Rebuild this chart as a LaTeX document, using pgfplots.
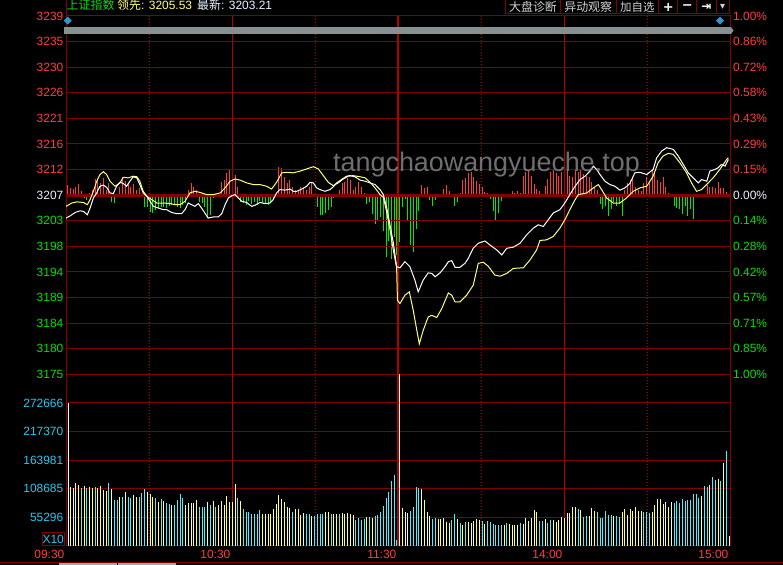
\documentclass[border=0pt]{standalone}
\usepackage{pgfplots}
\pgfplotsset{compat=1.18}
\usepackage{pgfplotstable}
\usepackage{fontspec}
\setmainfont{Liberation Sans}
\newfontfamily\cjk{Noto Sans CJK SC}
\newfontfamily\dejavu{DejaVu Sans}

\definecolor{gridred}{RGB}{130,0,0}
\definecolor{vred}{RGB}{175,0,0}
\definecolor{zeroline}{RGB}{140,0,0}
\definecolor{lred}{RGB}{255,60,60}
\definecolor{lgreen}{RGB}{0,225,0}
\definecolor{lwhite}{RGB}{235,242,255}
\definecolor{lcyan}{RGB}{40,200,235}
\definecolor{rbar}{RGB}{255,60,60}
\definecolor{gbar}{RGB}{0,235,0}
\definecolor{vyel}{RGB}{255,255,140}
\definecolor{vcyan}{RGB}{90,235,250}
\definecolor{vpale}{RGB}{215,255,255}
\definecolor{lyel}{RGB}{255,255,120}
\definecolor{btn}{RGB}{210,210,210}
\definecolor{sgray}{RGB}{135,145,145}
\definecolor{dblue}{RGB}{50,150,210}

\newcommand\f{\fontsize{12}{14}\selectfont}
\newcommand\R[1]{\textcolor{lred}{#1}}
\newcommand\G[1]{\textcolor{lgreen}{#1}}

\pgfplotsset{
  base/.style={
    scale only axis, anchor=south west, width=664bp,
    axis line style={draw=gridred, line width=1bp},
    major tick length=0pt, minor tick length=0pt,
    tick label style={font=\f}, scaled ticks=false,
    major grid style={line width=1bp},
    minor grid style={line width=1bp, dash pattern=on 1bp off 2bp},
    x grid style={draw=vred}, y grid style={draw=gridred},
  }
}

% red/green strength bars around the previous close
\pgfplotstableread[row sep=\\]{
i h\\
0 10\\ 1 7\\ 2 6\\ 3 8\\ 4 11\\ 5 4\\ 6 -3\\ 7 -5\\ 8 2\\ 9 5\\
10 16\\ 11 17\\ 12 12\\ 13 17\\ 14 5\\ 15 12\\ 16 -7\\ 17 -8\\ 18 1\\ 19 8\\
20 18\\ 21 14\\ 22 12\\ 23 8\\ 24 11\\ 25 5\\ 26 7\\ 27 -2\\ 28 -12\\ 29 -12\\
30 -17\\ 31 -18\\ 32 -15\\ 33 -13\\ 34 -12\\ 35 -12\\ 36 -13\\ 37 -11\\ 38 -10\\ 39 -10\\
40 -12\\ 41 -13\\ 42 -10\\ 43 -8\\ 44 5\\ 45 12\\ 46 8\\ 47 5\\ 48 -7\\ 49 -8\\
50 -12\\ 51 -23\\ 52 -20\\ 53 -3\\ 54 1\\ 55 -1\\ 56 13\\ 57 15\\ 58 22\\ 59 25\\
60 29\\ 61 20\\ 62 8\\ 63 -7\\ 64 -8\\ 65 -10\\ 66 -6\\ 67 -9\\ 68 -7\\ 69 -10\\
70 -6\\ 71 -8\\ 72 -9\\ 73 -10\\ 74 -7\\ 75 -4\\ 76 1\\ 77 28\\ 78 27\\ 79 18\\
80 12\\ 81 15\\ 82 8\\ 83 5\\ 84 5\\ 85 8\\ 86 7\\ 87 5\\ 88 8\\ 89 12\\
90 -2\\ 91 -12\\ 92 -20\\ 93 -20\\ 94 -18\\ 95 -15\\ 96 -12\\ 97 -3\\ 98 1\\ 99 5\\
100 12\\ 101 13\\ 102 17\\ 103 15\\ 104 5\\ 105 8\\ 106 13\\ 107 8\\ 108 2\\ 109 -9\\
110 -7\\ 111 -19\\ 112 -29\\ 113 -26\\ 114 -22\\ 115 -36\\ 116 -62\\ 117 -46\\ 118 -64\\ 119 -42\\
120 -60\\ 121 -47\\ 122 -12\\ 123 -4\\ 124 -26\\ 125 -50\\ 126 -57\\ 127 -34\\ 128 -16\\ 129 10\\
130 7\\ 131 8\\ 132 -5\\ 133 -11\\ 134 -5\\ 135 1\\ 136 1\\ 137 6\\ 138 10\\ 139 4\\
140 -2\\ 141 -11\\ 142 -7\\ 143 2\\ 144 15\\ 145 17\\ 146 22\\ 147 23\\ 148 18\\ 149 14\\
150 11\\ 151 8\\ 152 3\\ 153 2\\ 154 -4\\ 155 -16\\ 156 -26\\ 157 -18\\ 158 -6\\ 159 1\\
160 -1\\ 161 1\\ 162 4\\ 163 2\\ 164 4\\ 165 2\\ 166 19\\ 167 23\\ 168 24\\ 169 19\\
170 11\\ 171 6\\ 172 4\\ 173 -1\\ 174 9\\ 175 16\\ 176 23\\ 177 25\\ 178 22\\ 179 19\\
180 23\\ 181 25\\ 182 25\\ 183 19\\ 184 18\\ 185 25\\ 186 23\\ 187 25\\ 188 21\\ 189 19\\
190 18\\ 191 13\\ 192 8\\ 193 5\\ 194 -9\\ 195 -14\\ 196 -11\\ 197 -21\\ 198 -14\\ 199 -7\\
200 -11\\ 201 -9\\ 202 -21\\ 203 5\\ 204 12\\ 205 15\\ 206 17\\ 207 8\\ 208 5\\ 209 4\\
210 12\\ 211 18\\ 212 12\\ 213 25\\ 214 22\\ 215 15\\ 216 13\\ 217 18\\ 218 8\\ 219 2\\
220 -2\\ 221 -11\\ 222 -13\\ 223 -14\\ 224 -19\\ 225 -11\\ 226 -21\\ 227 -14\\ 228 -24\\ 229 1\\
230 0\\ 231 -1\\ 232 1\\ 233 10\\ 234 8\\ 235 8\\ 236 7\\ 237 13\\ 238 7\\ 239 7\\
240 3\\
}\rgdata

% volume per minute, t: 0 opening (white), 1 up (yellow), 2 down (cyan), 3 lunch bar
\pgfplotstableread[row sep=\\]{
k v t\\
1 112800 1\\ 2 109600 1\\ 3 120500 1\\ 4 116700 1\\ 5 109600 2\\ 6 114700 1\\ 7 109600 2\\
8 112200 1\\ 9 109600 1\\ 10 112200 2\\ 11 109600 1\\ 12 113500 1\\ 13 107000 1\\ 14 104500 1\\ 15 120500 2\\
16 109000 1\\ 17 86500 2\\ 18 86500 2\\ 19 92900 1\\ 20 93600 2\\ 21 101900 1\\ 22 93600 2\\ 23 90400 2\\
24 96800 1\\ 25 93600 1\\ 26 93600 2\\ 27 101300 2\\ 28 107700 2\\ 29 102600 1\\ 30 98700 1\\ 31 93600 1\\
32 91700 2\\ 33 82700 1\\ 34 89700 2\\ 35 84600 1\\ 36 81400 2\\ 37 80100 2\\ 38 78200 1\\ 39 78200 2\\
40 87800 2\\ 41 98700 2\\ 42 90400 2\\ 43 78200 1\\ 44 81400 1\\ 45 81400 1\\ 46 81400 1\\ 47 87800 1\\
48 74400 2\\ 49 74400 2\\ 50 74400 2\\ 51 84000 1\\ 52 78200 2\\ 53 85900 1\\ 54 73100 2\\ 55 78200 1\\
56 84600 1\\ 57 78200 1\\ 58 94900 1\\ 59 84000 1\\ 60 84000 1\\ 61 118600 1\\ 62 90400 2\\ 63 84600 1\\
64 70500 2\\ 65 64700 2\\ 66 64700 2\\ 67 59600 2\\ 68 60300 2\\ 69 60900 2\\ 70 68600 2\\ 71 60900 1\\
72 60900 1\\ 73 60900 1\\ 74 60900 1\\ 75 70500 1\\ 76 80100 1\\ 77 96800 1\\ 78 89700 1\\ 79 84000 1\\
80 73700 1\\ 81 71800 1\\ 82 64700 2\\ 83 70500 1\\ 84 69900 1\\ 85 58300 1\\ 86 62200 1\\ 87 60900 2\\
88 60900 2\\ 89 55800 1\\ 90 55800 2\\ 91 60900 2\\ 92 60900 2\\ 93 60900 2\\ 94 64700 1\\ 95 64700 1\\
96 60900 2\\ 97 60900 1\\ 98 60900 1\\ 99 60900 2\\ 100 62200 1\\ 101 60900 1\\ 102 62200 1\\ 103 60900 1\\
104 59000 1\\ 105 49400 2\\ 106 52600 2\\ 107 49400 2\\ 108 51300 2\\ 109 54500 1\\ 110 54500 2\\ 111 53200 1\\
112 55800 2\\ 113 59000 2\\ 114 63500 2\\ 115 75000 2\\ 116 91000 2\\ 117 101900 2\\ 118 124400 2\\ 119 134000 2\\
120 10900 2\\ 121 340000 3\\
122 72400 1\\ 123 64700 1\\ 124 62200 1\\ 125 66700 2\\ 126 74400 2\\ 127 112800 2\\ 128 110900 2\\ 129 109000 1\\
130 87800 1\\ 131 64700 1\\ 132 57000 1\\ 133 51300 2\\ 134 53200 2\\ 135 51300 1\\ 136 51300 1\\ 137 53200 1\\
138 45500 1\\ 139 43600 1\\ 140 49400 2\\ 141 60900 2\\ 142 51300 1\\ 143 43600 2\\ 144 39700 1\\ 145 45500 2\\
146 45500 1\\ 147 43600 1\\ 148 47400 1\\ 149 51300 1\\ 150 49400 1\\ 151 47400 2\\ 152 41700 1\\ 153 47400 2\\
154 45500 2\\ 155 41700 2\\ 156 39700 2\\ 157 39700 2\\ 158 39700 2\\ 159 39700 1\\ 160 43600 2\\ 161 41700 1\\
162 39700 1\\ 163 39700 1\\ 164 39700 1\\ 165 43600 2\\ 166 41700 1\\ 167 53200 1\\ 168 47400 1\\ 169 53200 1\\
170 68600 1\\ 171 64700 1\\ 172 47400 2\\ 173 47400 2\\ 174 51300 1\\ 175 43600 2\\ 176 49400 2\\ 177 49400 1\\
178 45500 1\\ 179 49400 1\\ 180 55100 1\\ 181 53800 1\\ 182 62800 1\\ 183 62800 1\\ 184 74400 1\\ 185 74400 1\\
186 70500 2\\ 187 68600 1\\ 188 55100 2\\ 189 57000 2\\ 190 57000 1\\ 191 72400 1\\ 192 66700 1\\ 193 64700 2\\
194 53800 2\\ 195 53800 2\\ 196 66700 2\\ 197 59000 2\\ 198 59000 2\\ 199 57000 1\\ 200 57000 2\\ 201 55100 2\\
202 64700 1\\ 203 70500 1\\ 204 57700 1\\ 205 70500 1\\ 206 66700 1\\ 207 74400 1\\ 208 66700 1\\ 209 66700 1\\
210 64700 2\\ 211 64700 2\\ 212 62800 2\\ 213 64700 1\\ 214 78200 1\\ 215 89700 1\\ 216 89700 1\\ 217 80100 1\\
218 84000 1\\ 219 74400 1\\ 220 84000 1\\ 221 82000 2\\ 222 85900 2\\ 223 82000 2\\ 224 89700 2\\ 225 85900 2\\
226 87800 2\\ 227 87800 2\\ 228 99400 2\\ 229 99400 2\\ 230 91700 2\\ 231 95500 1\\ 232 114700 2\\ 233 112800 2\\
234 116700 1\\ 235 132000 2\\ 236 126300 2\\ 237 128200 1\\ 238 124400 2\\ 239 157000 1\\ 240 180100 2\\ 241 19200 1\\
0.3 272000 0\\
}\voldata

\begin{document}
\begin{tikzpicture}[x=1bp,y=1bp]
\fill[black] (0,0) rectangle (783,565);

% strength bars + percent labels on the right
\begin{axis}[base, at={(66bp,190.6bp)}, height=358.4bp,
  xmin=-0.62, xmax=241.36, ymin=-179.2, ymax=179.2,
  axis line style={draw=none}, xtick=\empty,
  yticklabel pos=right,
  yticklabel style={anchor=west, inner sep=0pt, xshift=3bp},
  ytick={-179.2,-153.6,-128,-102.4,-76.8,-51.2,-25.6,0,25.6,51.2,76.8,102.4,128,153.6,179.2},
  yticklabels={\G{1.00\%},\G{0.85\%},\G{0.71\%},\G{0.57\%},\G{0.42\%},\G{0.28\%},\G{0.14\%},
    \textcolor{lwhite}{0.00\%},\R{0.15\%},\R{0.29\%},\R{0.43\%},\R{0.58\%},\R{0.72\%},\R{0.86\%},\R{1.00\%}},
]
\addplot[ycomb, draw=rbar, line width=1bp, restrict y to domain=0:500] table[x=i,y=h]{\rgdata};
\addplot[ycomb, draw=gbar, line width=1bp, restrict y to domain=-500:0] table[x=i,y=h]{\rgdata};
\end{axis}

% index and leading index
\begin{axis}[base, at={(66bp,190.6bp)}, height=358.4bp,
  xmin=0, xmax=240, ymin=3175.326, ymax=3239.474,
  xtick={60,180}, xticklabels={,}, minor xtick={30,90,150,210},
  extra x ticks={120}, extra x tick labels={},
  extra x tick style={major grid style={line width=2bp}},
  xmajorgrids, xminorgrids, ymajorgrids,
  ytick={3175.326,3179.908,3184.490,3189.072,3193.654,3198.236,3202.818,
    3211.982,3216.564,3221.146,3225.728,3230.310,3234.892,3239.474},
  yticklabels={\G{3175},\G{3180},\G{3184},\G{3189},\G{3194},\G{3198},\G{3203},
    \R{3212},\R{3216},\R{3221},\R{3226},\R{3230},\R{3235},\R{3239}},
  extra y ticks={3207.4}, extra y tick labels={\textcolor{lwhite}{3207}},
  extra y tick style={major grid style={draw=zeroline, line width=3bp}},
  yticklabel style={anchor=east, inner sep=0pt, xshift=-2.5bp},
]
\addplot[draw=lyel, line width=1bp] coordinates {
(0,3205.4)(2.1,3206.0)(3.9,3206.2)(6.3,3206.1)(7.7,3205.7)(8.7,3206.6)(9.9,3208.1)(11.1,3209.9)
(12.3,3211.1)(13.5,3211.6)(14.7,3211.1)(15.9,3209.9)(17.7,3209.0)(19.5,3209.6)(20.7,3210.6)(22.5,3210.5)
(24.3,3210.8)(25.6,3210.7)(26.7,3209.9)(27.9,3208.1)(29.2,3207.2)(31.0,3206.6)(32.8,3206.0)(35.2,3206.0)
(37.6,3205.9)(39.4,3205.7)(41.2,3205.7)(43.0,3206.3)(44.8,3207.8)(46.6,3208.1)(48.4,3207.9)(50.8,3207.5)
(53.2,3207.5)(55.7,3207.8)(57.5,3208.7)(59.3,3209.9)(61.1,3210.3)(62.9,3210.1)(65.3,3209.6)(67.7,3209.3)
(70.1,3209.3)(72.5,3209.0)(74.3,3208.5)(76.1,3209.7)(78.0,3211.4)(79.8,3211.5)(82.1,3211.4)(84.6,3211.7)
(87.0,3212.1)(89.4,3212.5)(91.2,3212.1)(93.0,3210.9)(94.8,3209.7)(96.6,3209.1)(98.4,3209.6)(100.2,3210.3)
(102.0,3210.8)(103.8,3210.9)(106.3,3210.7)(108.1,3210.5)(109.9,3209.7)(111.7,3208.7)(113.5,3207.5)(114.7,3207.0)
(115.9,3204.4)(117.1,3201.2)(118.3,3197.6)(119.5,3194.4)(119.8,3188.6)(120.7,3188.0)(122.5,3189.5)(124.1,3190.1)
(125.5,3186.8)(126.8,3183.2)(127.7,3180.8)(129.1,3183.2)(130.9,3185.6)(132.2,3185.9)(134.0,3185.5)(135.8,3187.1)
(138.2,3189.9)(139.4,3189.5)(140.6,3188.3)(142.4,3188.3)(144.8,3189.5)(147.2,3191.3)(149.0,3195.2)(150.8,3195.4)
(152.6,3194.7)(155.0,3193.1)(156.9,3192.9)(159.3,3193.4)(161.7,3194.3)(165.3,3194.4)(167.7,3195.8)(170.1,3197.6)
(171.3,3199.3)(173.7,3199.4)(176.1,3200.0)(178.5,3201.5)(180.3,3203.0)(182.1,3204.8)(184.0,3206.6)(185.2,3207.5)
(188.2,3207.8)(190.6,3208.7)(192.4,3209.3)(193.6,3208.4)(195.4,3206.9)(197.8,3206.0)(200.2,3206.0)(202.6,3206.9)
(205.0,3208.1)(207.4,3208.7)(209.9,3209.0)(212.2,3210.8)(214.0,3213.2)(215.8,3214.4)(217.7,3214.9)(219.5,3214.7)
(221.9,3213.2)(224.3,3211.4)(226.1,3209.6)(227.9,3208.1)(229.7,3208.4)(232.1,3209.6)(233.9,3210.5)(236.3,3212.0)
(238.8,3213.8)(239.4,3214.1)
};
\addplot[draw=white, line width=1bp] coordinates {
(0,3203.3)(1.5,3203.7)(3.3,3204.3)(5.1,3204.6)(6.3,3204.5)(7.7,3203.9)(8.7,3205.1)(9.9,3206.9)
(11.1,3207.8)(12.3,3209.0)(13.5,3209.2)(14.7,3208.8)(15.9,3207.8)(17.1,3207.7)(18.3,3209.0)(19.5,3209.7)
(20.7,3209.5)(21.9,3209.0)(23.1,3209.9)(24.3,3210.7)(25.6,3210.5)(26.7,3209.3)(27.9,3207.8)(29.2,3207.2)
(30.4,3206.3)(31.6,3205.4)(33.4,3205.1)(35.2,3204.8)(36.4,3204.8)(38.2,3204.3)(40.0,3204.1)(41.8,3204.1)
(43.0,3204.8)(44.2,3206.0)(45.4,3205.7)(46.6,3205.4)(47.8,3205.9)(49.0,3205.1)(50.2,3204.2)(51.4,3203.3)
(53.2,3203.5)(55.0,3203.5)(56.3,3204.1)(57.5,3205.7)(58.7,3206.9)(59.9,3207.3)(61.1,3207.5)(62.3,3206.9)
(63.5,3206.3)(65.3,3206.1)(67.1,3205.4)(68.3,3205.6)(70.1,3206.1)(71.9,3205.9)(73.7,3206.0)(74.9,3206.6)
(76.1,3207.8)(77.3,3208.4)(79.1,3208.3)(81.0,3208.5)(82.1,3208.1)(83.4,3208.1)(85.2,3208.5)(87.0,3209.0)
(88.2,3209.7)(89.4,3209.6)(90.6,3208.7)(91.8,3208.4)(93.6,3208.1)(95.4,3208.4)(96.6,3208.9)(97.8,3209.6)
(99.6,3210.2)(101.4,3210.8)(102.6,3210.9)(104.4,3210.7)(106.3,3210.1)(108.1,3209.9)(109.9,3209.6)(111.7,3209.3)
(113.5,3208.4)(114.7,3207.5)(115.9,3205.2)(117.1,3202.1)(118.3,3198.9)(119.5,3194.6)(120.7,3194.4)(122.5,3195.5)
(124.3,3194.6)(126.1,3192.2)(127.3,3190.1)(129.1,3192.2)(130.9,3193.5)(132.2,3193.4)(133.4,3192.8)(135.2,3193.5)
(137.0,3194.6)(138.2,3195.5)(139.4,3195.7)(140.6,3194.5)(142.4,3194.5)(144.2,3195.2)(145.4,3196.1)(147.2,3197.9)
(149.0,3198.8)(151.4,3199.2)(153.2,3198.5)(155.7,3197.6)(157.5,3196.7)(159.3,3197.9)(161.7,3198.1)(164.1,3198.8)
(166.5,3200.3)(168.9,3201.5)(170.7,3202.1)(172.5,3201.8)(174.3,3203.0)(176.1,3204.2)(178.5,3204.8)(180.3,3206.0)
(182.1,3207.5)(184.0,3209.0)(185.8,3210.2)(187.6,3210.8)(189.4,3211.7)(190.6,3212.6)(191.8,3212.0)(193.0,3211.1)
(194.8,3209.9)(196.6,3209.3)(198.4,3209.0)(200.2,3208.3)(202.0,3208.7)(203.8,3209.5)(205.6,3211.4)(207.4,3211.5)
(209.9,3211.1)(212.2,3212.0)(213.5,3214.1)(215.3,3215.3)(217.1,3215.9)(219.5,3215.6)(221.3,3214.4)(223.1,3212.9)
(224.9,3211.4)(226.7,3210.5)(228.5,3209.6)(229.7,3210.2)(231.6,3209.9)(232.7,3211.7)(234.5,3212.0)(235.7,3212.3)
(236.9,3212.9)(238.2,3212.6)(239.4,3213.8)
};
\end{axis}

% volume
\begin{axis}[base, at={(66bp,19.3bp)}, height=171.3bp,
  xmin=-0.62, xmax=241.36, ymin=0, ymax=326900,
  xtick={-0.62,59.88,180.88,241.36}, xticklabels={09:30,10:30,14:00,15:00},
  extra x ticks={120.38}, extra x tick labels={11:30},
  extra x tick style={major grid style={line width=2bp}},
  minor xtick={29.63,90.13,150.63,211.13},
  xmajorgrids, xminorgrids, ymajorgrids,
  xticklabel style={anchor=north east, inner sep=0pt, yshift=-4bp, xshift=-1.5bp, text=lred},
  ytick={54485,108970,163455,217940,272425},
  yticklabels={55296,108685,163981,217370,272666},
  yticklabel style={anchor=east, inner sep=0pt, xshift=-2.5bp, text=lcyan},
]
\addplot[ycomb, draw=vyel, line width=1bp, restrict expr to domain={\thisrow{t}}{0.5:1.5}] table[x=k,y=v]{\voldata};
\addplot[ycomb, draw=vcyan, line width=1bp, restrict expr to domain={\thisrow{t}}{1.5:2.5}] table[x=k,y=v]{\voldata};
\addplot[ycomb, draw=vpale, line width=1bp, restrict expr to domain={\thisrow{t}}{2.5:3.5}] table[x=k,y=v]{\voldata};
% opening call auction volume
\addplot[ycomb, draw=white, line width=1.3bp, restrict expr to domain={\thisrow{t}}{-0.5:0.5}] table[x=k,y=v]{\voldata};
\addplot[ybar, bar width=1.3bp, fill=white, draw=none] coordinates {(0.3,272000)};
\end{axis}

% scroll bar and markers
\fill[sgray] (63.5,531) rectangle (731,538);
\fill[sgray] (731,531) -- (733.5,534.5) -- (731,538) -- cycle;
\fill[dblue] (67.7,548.3) -- (71.7,544.3) -- (67.7,540.3) -- (63.7,544.3) -- cycle;
\fill[dblue] (720,548.3) -- (724,544.3) -- (720,540.3) -- (716,544.3) -- cycle;

% header
\draw[gridred, line width=1bp] (66,565) -- (66,549);
\foreach \xx in {505.7,560.3,616,658.7,677.7,696.7,716,729.5}
  \draw[gridred, line width=1bp] (\xx,565) -- (\xx,550.5);
\draw[gridred, line width=1bp] (505.7,551) -- (729.5,551);
\node[anchor=base west, inner sep=0pt, text=lgreen] at (66.5,555.5) {\f\cjk 上证指数};
\node[anchor=base west, inner sep=0pt, text=lyel] at (117,555.5) {\f{\cjk 领先}: 3205.53};
\node[anchor=base west, inner sep=0pt, text=lwhite] at (197,555.5) {\f{\cjk 最新}: 3203.21};
\node[text=btn, inner sep=0pt] at (533,558) {\f\cjk 大盘诊断};
\node[text=btn, inner sep=0pt] at (588.2,558) {\f\cjk 异动观察};
\node[text=btn, inner sep=0pt] at (637.3,558) {\fontsize{11.5}{13}\selectfont\cjk 加自选};
\node[text=white, inner sep=0pt] at (668.2,558) {\fontsize{13}{14}\selectfont\dejavu\bfseries +};
\node[text=white, inner sep=0pt] at (687.2,558) {\fontsize{13}{14}\selectfont\dejavu\bfseries −};
\node[text=white, inner sep=0pt] at (706.3,558) {\fontsize{12}{14}\selectfont\dejavu\bfseries ⇥};
\node[text=btn, inner sep=0pt] at (722.7,558) {\fontsize{10}{12}\selectfont\dejavu ▾};

% volume unit box
\draw[gridred, line width=1bp] (42.3,19.3) rectangle (64,32.3);
\node[text=lcyan, inner sep=0pt] at (53.2,25.8) {\f X10};

% bottom strip
\draw[gridred, line width=1bp] (0,2.5) -- (783,2.5);
\fill[gray!70] (59,0) rectangle (116.5,1.5);
\fill[gray!70] (118,0) rectangle (175.5,1.5);

% watermark
\node[anchor=base west, inner sep=0pt, text={rgb,255:red,130;green,130;blue,130}, opacity=0.85]
  at (333,393.3) {\fontsize{27}{30}\selectfont tangchaowangyueche.top};

\pgfresetboundingbox
\useasboundingbox (0,0) rectangle (783,565);
\end{tikzpicture}
\end{document}
